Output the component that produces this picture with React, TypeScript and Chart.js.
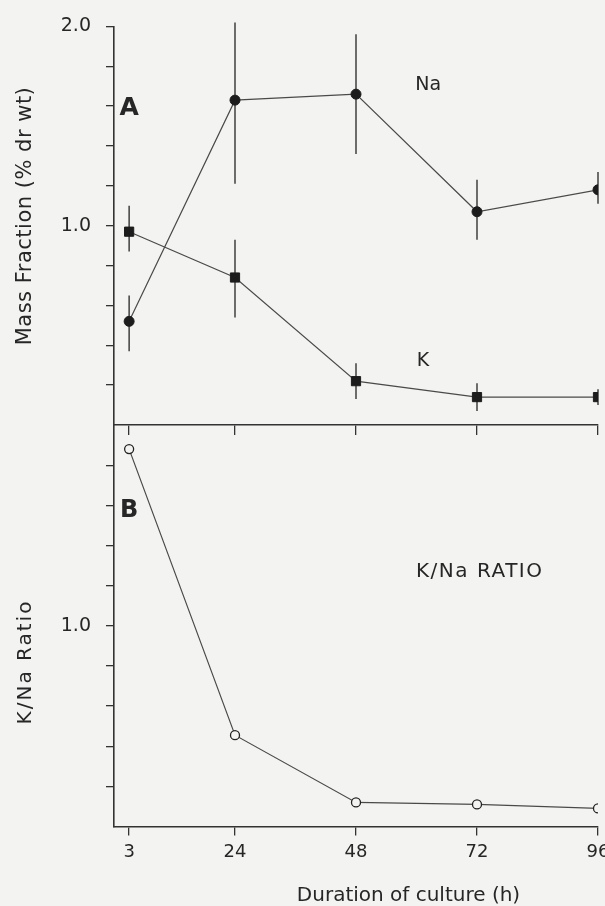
import React, { useEffect, useRef } from 'react';
import { Chart, registerables } from 'chart.js';

Chart.register(...registerables);

// ---- data ----
const hours = [3, 24, 48, 72, 96];
const xTickValues = [3, 24, 48, 72, 96];

const naMean = [0.52, 1.63, 1.66, 1.07, 1.18];
const naLow = [0.37, 1.21, 1.36, 0.93, 1.11];
const naHigh = [0.65, 2.02, 1.96, 1.23, 1.27];

const kMean = [0.97, 0.74, 0.22, 0.14, 0.14];
const kLow = [0.87, 0.54, 0.13, 0.07, 0.1];
const kHigh = [1.1, 0.93, 0.31, 0.21, 0.18];

const ratioMean = [1.88, 0.455, 0.12, 0.11, 0.09];

const yLabelledA = [1.0, 2.0];
const yLabelledB = [1.0];

const FONT = "'DejaVu Sans', 'Liberation Sans', sans-serif";
const INK = '#262626';
const LINE = '#4a4a4a';
const BG = '#f3f3f1';

const W = 620;
const H = 906;

const errorBarPlugin = {
  id: 'errorBars',
  beforeDatasetsDraw(chart: any) {
    const ctx = chart.ctx;
    const xs = chart.scales.x;
    const ys = chart.scales.y;
    chart.data.datasets.forEach((ds: any) => {
      if (!ds.errLow || !ds.errHigh) return;
      ctx.save();
      ctx.strokeStyle = '#333';
      ctx.lineWidth = 1.4;
      ds.data.forEach((p: any, i: number) => {
        const px = xs.getPixelForValue(p.x);
        ctx.beginPath();
        ctx.moveTo(px, ys.getPixelForValue(ds.errHigh[i]));
        ctx.lineTo(px, ys.getPixelForValue(ds.errLow[i]));
        ctx.stroke();
      });
      ctx.restore();
    });
  },
};

type Label = {
  text: string;
  font: string;
  x?: number;
  y?: number;
  px?: number;
  py?: number;
  align?: CanvasTextAlign;
  rotate?: boolean;
  spacing?: string;
};

const makeTextPlugin = (labels: Label[]) => ({
  id: 'texts',
  afterDraw(chart: any) {
    const ctx = chart.ctx;
    const xs = chart.scales.x;
    const ys = chart.scales.y;
    labels.forEach((l) => {
      const px = l.px !== undefined ? l.px : xs.getPixelForValue(l.x);
      const py = l.py !== undefined ? l.py : ys.getPixelForValue(l.y);
      ctx.save();
      ctx.font = l.font;
      ctx.fillStyle = INK;
      (ctx as any).letterSpacing = l.spacing || '0px';
      ctx.textAlign = l.align || 'center';
      ctx.textBaseline = 'middle';
      ctx.translate(px, py);
      if (l.rotate) ctx.rotate(-Math.PI / 2);
      ctx.fillText(l.text, 0, 0);
      ctx.restore();
    });
  },
});

const isLabelled = (v: number, list: number[]) => list.some((t) => Math.abs(t - v) < 1e-6);

const xAxis = (tickLen: number, height: number, showLabels: boolean) => ({
  type: 'linear',
  min: 0,
  max: 96,
  afterBuildTicks: (s: any) => {
    s.ticks = xTickValues.map((v) => ({ value: v }));
  },
  afterFit: (s: any) => {
    s.height = height;
  },
  grid: { drawOnChartArea: false, drawTicks: true, tickLength: tickLen, color: '#333', lineWidth: 1.3 },
  border: { display: true, color: '#333', width: 1.6 },
  ticks: {
    display: showLabels,
    padding: 6,
    color: INK,
    font: { family: FONT, size: 18 },
    callback: (v: any) => String(v),
    maxRotation: 0,
  },
});

const yAxis = (labelled: number[], minTick: number, maxTick: number) => ({
  type: 'linear',
  min: 0,
  max: 2,
  afterBuildTicks: (s: any) => {
    const t: any[] = [];
    for (let k = Math.round(minTick * 5); k <= Math.round(maxTick * 5); k++) t.push({ value: k / 5 });
    s.ticks = t;
  },
  afterFit: (s: any) => {
    s.width = 114;
  },
  grid: { drawOnChartArea: false, drawTicks: true, tickLength: 8, color: '#333', lineWidth: 1.3 },
  border: { display: true, color: '#333', width: 1.6 },
  ticks: {
    padding: 15,
    color: INK,
    font: { family: FONT, size: 19 },
    callback: (v: any) => (isLabelled(Number(v), labelled) ? Number(v).toFixed(1) : ''),
  },
});

export default function App() {
  const refA = useRef<HTMLCanvasElement>(null);
  const refB = useRef<HTMLCanvasElement>(null);

  useEffect(() => {
    const chartA = new Chart(refA.current as HTMLCanvasElement, {
      type: 'line',
      data: {
        datasets: [
          {
            label: 'Na',
            data: hours.map((h, i) => ({ x: h, y: naMean[i] })),
            errLow: naLow,
            errHigh: naHigh,
            borderColor: LINE,
            borderWidth: 1.2,
            pointStyle: 'circle',
            pointRadius: 5,
            pointBackgroundColor: '#1c1c1c',
            pointBorderColor: '#1c1c1c',
            pointBorderWidth: 1,
            tension: 0,
          } as any,
          {
            label: 'K',
            data: hours.map((h, i) => ({ x: h, y: kMean[i] })),
            errLow: kLow,
            errHigh: kHigh,
            borderColor: LINE,
            borderWidth: 1.2,
            pointStyle: 'rect',
            pointRadius: 6.5,
            pointBackgroundColor: '#1c1c1c',
            pointBorderColor: '#1c1c1c',
            pointBorderWidth: 1,
            tension: 0,
          } as any,
        ],
      },
      options: {
        responsive: false,
        animation: false,
        devicePixelRatio: 1,
        layout: { padding: { top: 24, left: 0, right: W - 598, bottom: H - 425 - 10 } },
        plugins: { legend: { display: false }, tooltip: { enabled: false } },
        scales: {
          x: xAxis(10, 10, false) as any,
          y: yAxis(yLabelledA, 0.2, 2.0) as any,
        },
      },
      plugins: [
        errorBarPlugin,
        makeTextPlugin([
          { text: 'A', font: `bold 25px ${FONT}`, x: 3, y: 1.59 },
          { text: 'Na', font: `19px ${FONT}`, x: 62.3, y: 1.706 },
          { text: 'K', font: `19px ${FONT}`, x: 61.3, y: 0.32 },
          { text: 'Mass Fraction (% dr wt)', font: `21px ${FONT}`, px: 26, py: 216, rotate: true, spacing: '0.5px' },
        ]),
      ],
    });

    const chartB = new Chart(refB.current as HTMLCanvasElement, {
      type: 'line',
      data: {
        datasets: [
          {
            label: 'K/Na ratio',
            data: hours.map((h, i) => ({ x: h, y: ratioMean[i] })),
            borderColor: LINE,
            borderWidth: 1.2,
            pointStyle: 'circle',
            pointRadius: 4.5,
            pointBackgroundColor: BG,
            pointBorderColor: '#222',
            pointBorderWidth: 1.3,
            tension: 0,
          } as any,
        ],
      },
      options: {
        responsive: false,
        animation: false,
        devicePixelRatio: 1,
        layout: { padding: { top: 425, left: 0, right: W - 598, bottom: 0 } },
        plugins: { legend: { display: false }, tooltip: { enabled: false } },
        scales: {
          x: xAxis(9, H - 826.5, true) as any,
          y: yAxis(yLabelledB, 0.2, 1.8) as any,
        },
      },
      plugins: [
        makeTextPlugin([
          { text: 'B', font: `bold 24px ${FONT}`, x: 3, y: 1.574 },
          { text: 'K/Na RATIO', font: `20px ${FONT}`, x: 59.9, y: 1.268, align: 'left', spacing: '1.5px' },
          { text: 'K/Na Ratio', font: `20px ${FONT}`, px: 26, py: 662, rotate: true, spacing: '2px' },
          { text: 'Duration of culture (h)', font: `20px ${FONT}`, px: 408.5, py: 896 },
        ]),
      ],
    });

    return () => {
      chartA.destroy();
      chartB.destroy();
    };
  }, []);

  return (
    <div
      style={{
        position: 'absolute',
        left: 0,
        top: 0,
        width: 605,
        height: 906,
        overflow: 'hidden',
        background: BG,
      }}
    >
      <canvas ref={refA} width={W} height={H} style={{ position: 'absolute', left: 0, top: 0, width: W, height: H }} />
      <canvas ref={refB} width={W} height={H} style={{ position: 'absolute', left: 0, top: 0, width: W, height: H }} />
    </div>
  );
}
